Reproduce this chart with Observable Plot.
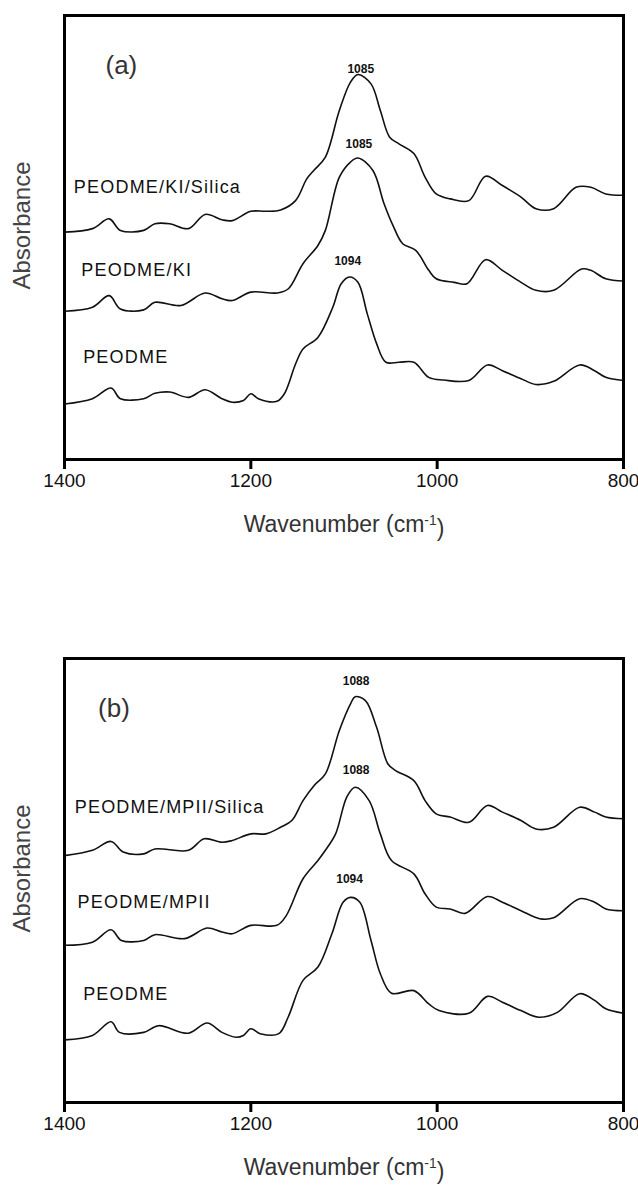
<!DOCTYPE html>
<html><head><meta charset="utf-8">
<script src="https://cdn.jsdelivr.net/npm/d3@7"></script>
<script src="https://cdn.jsdelivr.net/npm/@observablehq/plot@0.6"></script>
<style>
body{margin:0;background:#fff;}
svg{display:block;}
</style></head><body><div id="chart"></div>
<script>
// ---------- Data (absorbance in arbitrary units) ----------
const xTicks = [1400, 1200, 1000, 800];

// Panel (a)
const wnA_Silica = [1400,1370,1352,1340,1315,1303,1287,1267,1249,1231,1220,1200,1184,1168,1152,1140,1132,1120,1105,1093,1085,1071,1061,1051,1041,1025,1013,1001,986,966,948,930,910,894,875,851,835,819,800];
const absA_Silica = [51.2,52.0,54.2,51.6,51.6,53.1,53.1,52.0,55.2,54.0,53.8,55.9,55.9,56.2,58.3,63.2,65.2,68.1,78.6,85.0,86.7,84.6,78.6,72.6,71.1,68.9,63.6,59.8,58.7,58.3,63.8,61.7,59.1,56.5,56.5,61.3,61.3,59.8,59.5];

const wnA_KI = [1400,1370,1352,1340,1315,1303,1275,1249,1231,1220,1200,1172,1160,1144,1128,1120,1105,1093,1085,1069,1057,1047,1037,1023,1009,1001,982,968,948,930,910,894,875,845,835,819,800];
const absA_KI = [33.4,34.3,36.9,33.9,33.7,35.4,34.7,37.5,36.2,35.8,37.7,37.5,38.4,44.1,48.2,51.6,63.6,67.0,67.9,65.1,57.6,52.5,48.6,47.1,42.6,40.7,39.9,39.6,45.0,42.6,39.9,38.1,38.1,42.9,42.6,40.7,40.2];

const wnA_PEODME = [1400,1370,1350,1340,1315,1303,1287,1267,1249,1231,1220,1208,1200,1192,1172,1164,1152,1144,1128,1112,1103,1094,1085,1075,1065,1055,1041,1025,1009,993,966,946,930,910,894,875,847,831,819,800];
const absA_PEODME = [12.5,13.7,16.1,13.7,13.7,14.9,15.2,14.0,15.7,13.7,12.9,13.3,14.8,13.7,13.1,14.8,21.5,24.9,27.5,34.3,39.6,41.1,39.9,32.8,26.1,21.9,21.9,21.9,18.5,17.9,17.8,21.3,20.0,18.2,16.9,17.6,21.3,20.0,18.5,17.8];

// Panel (b)
const wnB_Silica = [1400,1370,1350,1337,1315,1303,1267,1250,1231,1220,1200,1184,1168,1156,1144,1132,1120,1105,1093,1088,1077,1065,1053,1045,1025,1013,1001,986,966,946,930,910,894,875,847,831,819,800];
const absB_Silica = [55.6,56.8,58.8,56.4,56.0,57.1,56.8,59.4,58.6,59.0,60.5,60.5,62.0,63.5,68.0,71.4,74.0,83.8,89.8,91.4,90.5,84.5,76.3,74.8,72.5,68.0,65.0,64.3,63.1,66.9,65.4,63.5,61.6,62.0,66.5,65.4,64.3,63.9];

const wnB_MPII = [1400,1370,1350,1339,1315,1303,1271,1247,1231,1220,1200,1172,1162,1144,1128,1120,1109,1097,1088,1073,1061,1049,1025,1013,1001,986,970,946,930,910,890,875,847,831,819,800];
const absB_MPII = [35.4,36.1,38.9,36.5,36.5,37.8,36.9,39.3,38.4,38.0,39.9,39.9,42.1,50.4,54.5,56.8,60.5,68.8,71.0,68.0,60.5,54.5,51.5,47.0,44.0,43.6,42.6,46.4,45.1,43.2,41.4,41.6,45.9,45.1,43.6,43.2];

const wnB_PEODME = [1400,1370,1350,1341,1315,1299,1267,1247,1231,1216,1208,1200,1190,1170,1160,1144,1128,1113,1101,1093,1083,1071,1061,1049,1025,1009,998,966,946,930,910,891,871,847,831,819,800];
const absB_PEODME = [14.1,15.1,18.2,15.8,15.8,17.3,15.6,17.9,15.8,14.7,15.1,16.6,15.5,15.5,19.2,27.5,30.5,38.0,45.1,46.2,45.1,36.5,29.0,24.6,25.2,22.2,20.7,20.1,23.9,22.6,20.7,19.2,20.3,24.5,23.0,21.1,20.1];

// Annotations
const namesA = ["PEODME/KI/Silica", "PEODME/KI", "PEODME"];
const nameWnA = [1390, 1382, 1380];
const nameAbsA = [61.3, 42.7, 23.0];
const peaksA = ["1085", "1085", "1094"];
const peakWnA = [1082, 1084, 1096];
const peakAbsA = [88.0, 71.1, 44.7];

const namesB = ["PEODME/MPII/Silica", "PEODME/MPII", "PEODME"];
const nameWnB = [1389, 1386, 1380];
const nameAbsB = [66.5, 45.1, 24.3];
const peaksB = ["1088", "1088", "1094"];
const peakWnB = [1087, 1087, 1094];
const peakAbsB = [94.8, 74.8, 50.2];

const tagA = {t: "(a)", w: 1356, a: 88.7};
const tagB = {t: "(b)", w: 1364, a: 88.7};

const xLabel = "Wavenumber (cm-1)";
const yLabel = "Absorbance";

// ---------- Drawing ----------
const FONT = "'Liberation Sans', Arial, Helvetica, sans-serif";

function panel(cfg) {
  const rows = cfg.series.flatMap(s => s.w.map((w, i) => ({w, a: s.a[i], name: s.name})));
  const names = cfg.names.map((t, i) => ({t, w: cfg.nameWn[i], a: cfg.nameAbs[i]}));
  const peaks = cfg.peaks.map((t, i) => ({t, w: cfg.peakWn[i], a: cfg.peakAbs[i]}));
  const svg = Plot.plot({
    width: 638,
    height: cfg.height,
    marginTop: cfg.mt,
    marginBottom: cfg.mb,
    marginLeft: 64,
    marginRight: 15,
    style: {fontFamily: FONT, background: "#fff", color: "#000", overflow: "visible"},
    x: {domain: [1400, 800], axis: null},
    y: {domain: [0, 100], axis: null},
    marks: [
      Plot.line(rows, {x: "w", y: "a", z: "name", stroke: "#111", strokeWidth: 1.6, curve: "catmull-rom"}),
      Plot.frame({stroke: "#000", strokeWidth: 3}),
      Plot.axisX({ticks: xTicks, tickFormat: d => String(d), tickSize: 10, tickPadding: 4, strokeWidth: 3, fontSize: 19, label: null, anchor: "bottom", fill: "#111"}),
      Plot.text(names, {x: "w", y: "a", text: "t", textAnchor: "start", fontSize: 18, fill: "#111"}),
      Plot.text(peaks, {x: "w", y: "a", text: "t", textAnchor: "middle", fontSize: 12, fontWeight: "bold", fill: "#111"}),
      Plot.text([cfg.tag], {x: "w", y: "a", text: "t", textAnchor: "start", fontSize: 26, fill: "#333"}),
      Plot.text([yLabel], {frameAnchor: "left", textAnchor: "middle", rotate: -90, dx: -42, dy: -12, fontSize: 24, fill: "#444"}),
      Plot.text([xLabel], {frameAnchor: "bottom", textAnchor: "middle", dy: 72, fontSize: 23, fill: "#333"})
    ]
  });
  const s = d3.select(svg);
  s.selectAll("text").filter(function() { return cfg.names.includes(this.textContent); })
    .style("letter-spacing", "1.2px");
  s.selectAll("text").filter(function() { return this.textContent === xLabel; })
    .each(function() {
      const t = d3.select(this);
      t.text(null);
      t.append("tspan").text("Wavenumber (cm");
      t.append("tspan").attr("dy", "-0.45em").attr("font-size", "0.6em").text("-1");
      t.append("tspan").attr("dy", "0.45em").text(")");
    });
  return svg;
}

const root = document.getElementById("chart");
root.appendChild(panel({
  height: 560, mt: 15, mb: 101,
  series: [
    {name: namesA[0], w: wnA_Silica, a: absA_Silica},
    {name: namesA[1], w: wnA_KI, a: absA_KI},
    {name: namesA[2], w: wnA_PEODME, a: absA_PEODME}
  ],
  names: namesA, nameWn: nameWnA, nameAbs: nameAbsA,
  peaks: peaksA, peakWn: peakWnA, peakAbs: peakAbsA,
  tag: tagA
}));
root.appendChild(panel({
  height: 626, mt: 98, mb: 84,
  series: [
    {name: namesB[0], w: wnB_Silica, a: absB_Silica},
    {name: namesB[1], w: wnB_MPII, a: absB_MPII},
    {name: namesB[2], w: wnB_PEODME, a: absB_PEODME}
  ],
  names: namesB, nameWn: nameWnB, nameAbs: nameAbsB,
  peaks: peaksB, peakWn: peakWnB, peakAbs: peakAbsB,
  tag: tagB
}));
</script></body></html>
